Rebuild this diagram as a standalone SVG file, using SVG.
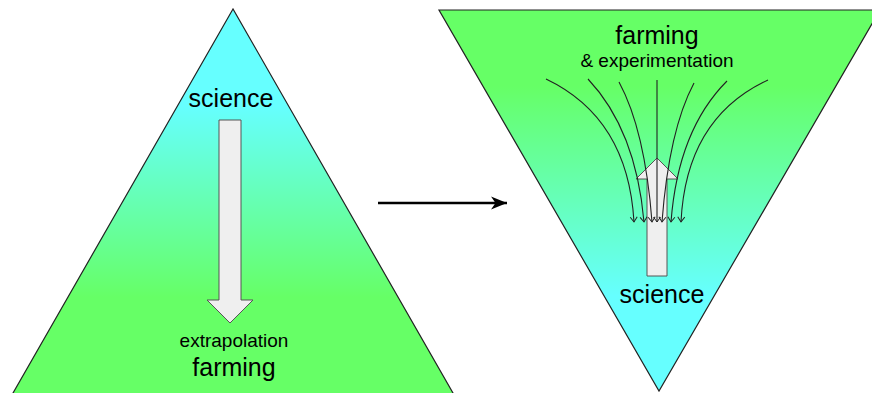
<svg xmlns="http://www.w3.org/2000/svg" width="872" height="393" viewBox="0 0 872 393">
<defs>
<linearGradient id="gLeft" gradientUnits="userSpaceOnUse" x1="0" y1="10" x2="0" y2="393">
<stop offset="0" stop-color="#66ffff"/>
<stop offset="0.25" stop-color="#66ffff"/>
<stop offset="0.75" stop-color="#66ff66"/>
<stop offset="1" stop-color="#66ff66"/>
</linearGradient>
<linearGradient id="gRight" gradientUnits="userSpaceOnUse" x1="0" y1="10" x2="0" y2="391">
<stop offset="0" stop-color="#66ff66"/>
<stop offset="0.2" stop-color="#66ff66"/>
<stop offset="0.75" stop-color="#66ffff"/>
<stop offset="1" stop-color="#66ffff"/>
</linearGradient>
<marker id="vhead" markerWidth="10" markerHeight="10" refX="8" refY="5" orient="auto" markerUnits="userSpaceOnUse" viewBox="0 0 10 10">
<path d="M3,1.5 L8,5 L3,8.5" fill="none" stroke="#222" stroke-width="1"/>
</marker>
<marker id="bigHead" markerWidth="18" markerHeight="16" refX="16" refY="8" orient="auto" markerUnits="userSpaceOnUse" viewBox="0 0 18 16">
<path d="M0,1.5 L16,8 L0,14.5 L4.5,8 Z" fill="#000"/>
</marker>
</defs>
<style>
.tri{stroke:#222;stroke-width:1.2}
.blk{fill:#efefef;stroke:#555;stroke-width:1}
.curve{fill:none;stroke:#222;stroke-width:1.1}
.t{font-family:"Liberation Sans",Arial,sans-serif;fill:#000;text-anchor:middle}
.big{font-size:25px}
.small{font-size:19px}
</style>

<g id="left-triangle">
<polygon class="tri" points="233,9 5,407 461,407" fill="url(#gLeft)"/>
<text class="t big" x="231" y="107">science</text>
<text class="t small" x="234" y="347">extrapolation</text>
<text class="t big" x="234" y="376">farming</text>
<path id="down-arrow" class="blk" d="M219,120 L241,120 L241,300 L253,300 L230,323 L207,300 L219,300 Z"/>
</g>

<g id="right-triangle">
<polygon class="tri" points="439,10 880,10 659,391" fill="url(#gRight)"/>
<text class="t big" x="657" y="44">farming</text>
<text class="t small" x="657" y="67">&amp; experimentation</text>
<text class="t big" x="662" y="303">science</text>
<path id="up-arrow" class="blk" d="M647,276 L647,179 L636,179 L657,158 L678,179 L667,179 L667,276 Z"/>
</g>

<g id="connectors">
<line x1="378" y1="203" x2="507" y2="203" stroke="#000" stroke-width="2.4" marker-end="url(#bigHead)"/>
<path class="curve" d="M546,79 Q628,118 634,222" marker-end="url(#vhead)"/>
<path class="curve" d="M588,79 Q636,130 644,222" marker-end="url(#vhead)"/>
<path class="curve" d="M619,82 Q645,130 652,222" marker-end="url(#vhead)"/>
<path class="curve" d="M657,80 L657,222" stroke="#555" stroke-width="0.8" marker-end="url(#vhead)"/>
<path class="curve" d="M694,83 Q669,130 662,222" marker-end="url(#vhead)"/>
<path class="curve" d="M727,81 Q678,130 671,222" marker-end="url(#vhead)"/>
<path class="curve" d="M768,80 Q686,118 681,222" marker-end="url(#vhead)"/>
</g>
</svg>
